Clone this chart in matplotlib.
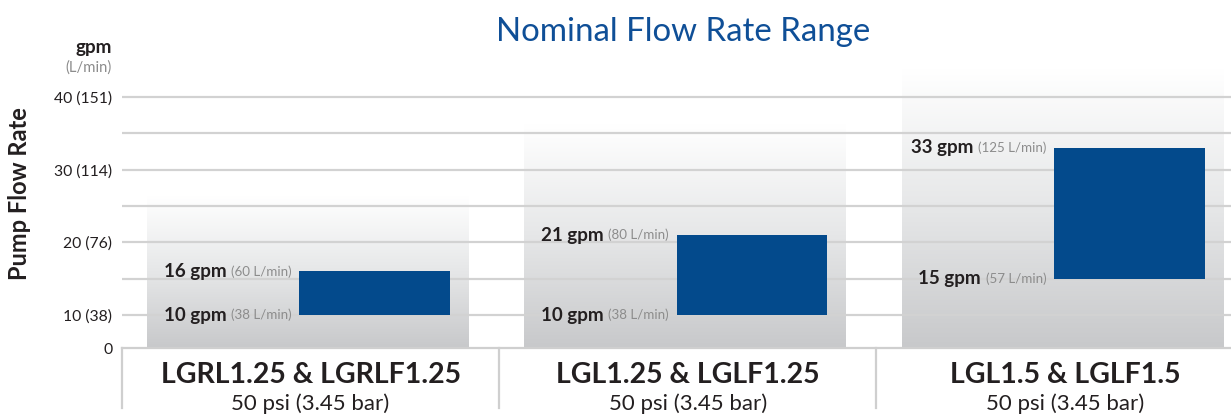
import matplotlib
matplotlib.use("Agg")
import matplotlib.pyplot as plt
import matplotlib.transforms as mtransforms
from matplotlib.colors import LinearSegmentedColormap
import numpy as np

plt.rcParams['font.family'] = ['Lato', 'DejaVu Sans']

# ---- data ----
categories = ["LGRL1.25 & LGRLF1.25", "LGL1.25 & LGLF1.25", "LGL1.5 & LGLF1.5"]
subtitles = ["50 psi (3.45 bar)", "50 psi (3.45 bar)", "50 psi (3.45 bar)"]
low_gpm = [10, 10, 15]
high_gpm = [16, 21, 33]
low_lpm = [38, 38, 57]
high_lpm = [60, 80, 125]
panel_top = [26.3, 36.2, 43.8]
ytick_vals = [5.46, 10, 20, 30, 40]
ytick_labels = ["0", "10 (38)", "20 (76)", "30 (114)", "40 (151)"]
grid_vals = [10, 15, 20, 25, 30, 35, 40]

W, H = 1231, 418
fig = plt.figure(figsize=(W / 100, H / 100), dpi=100)
ax_left, ax_right, ax_bottom, ax_top = 122, 1231, 348, 55
ax = fig.add_axes([ax_left / W, (H - ax_bottom) / H, (ax_right - ax_left) / W, (ax_bottom - ax_top) / H])
ax.set_xlim(-0.5, 2.44)
ax.set_ylim(5.46, 45.78)

bar_color = "#034a8c"
grid_color = "#d2d2d2"
cmap = LinearSegmentedColormap.from_list("panel", ["#c8c9cb", "#e6e7e8", "#ffffff"])

x = np.arange(len(categories))
# gradient panels
grad = np.linspace(0, 1, 256).reshape(-1, 1)
for xi, top in zip(x, panel_top):
    ax.imshow(grad, extent=(xi - 0.433, xi + 0.42, 5.6, top), origin="lower",
              cmap=cmap, aspect="auto", zorder=0.5, interpolation="bicubic")

# gridlines
for g in grid_vals:
    ax.axhline(g, color=grid_color, lw=1.6, zorder=1)

# bars
bars = ax.bar(x + 0.17, np.array(high_gpm) - np.array(low_gpm), bottom=low_gpm,
              width=0.40, color=bar_color, zorder=2)

# value labels
for xi, lo, hi, llo, lhi in zip(x, low_gpm, high_gpm, low_lpm, high_lpm):
    lx = xi - 0.05
    for v, lv in ((lo, llo), (hi, lhi)):
        t = ax.text(lx, v, f"({lv} L/min)", ha="right", va="center",
                    fontsize=9.6, color="#8c8c8c", zorder=3)
        ax.annotate(f"{v} gpm ", xy=(0, 0.5), xycoords=t, ha="right", va="center",
                    fontsize=13.5, fontweight="bold", color="#231f20", zorder=3)

# axes styling
for s in ("top", "right", "left"):
    ax.spines[s].set_visible(False)
ax.spines["bottom"].set_color("#cfcfcf")
ax.spines["bottom"].set_linewidth(1.6)
ax.set_xticks([])
ax.set_yticks(ytick_vals)
ax.set_yticklabels(ytick_labels, fontsize=11.3, color="#231f20")
ax.tick_params(axis="y", length=0, pad=7)

# category separators and labels
trans = mtransforms.blended_transform_factory(ax.transData, ax.transAxes)
for sx in (-0.5, 0.5, 1.5):
    ax.plot([sx, sx], [0, -0.205], transform=trans, color="#cfcfcf", lw=1.6, clip_on=False)
for xi, cat, sub in zip(x, categories, subtitles):
    ax.text(xi, -0.093, cat, transform=trans, ha="center", va="center",
            fontsize=20.5, fontweight="bold", color="#231f20")
    ax.text(xi, -0.19, sub, transform=trans, ha="center", va="center",
            fontsize=16, color="#231f20")

# titles
fig.text(683 / W, 1 - 32 / H, "Nominal Flow Rate Range", ha="center", va="center",
         fontsize=23.8, color="#0f4f97")
fig.text(20 / W, 1 - 194 / H, "Pump Flow Rate", ha="center", va="center", rotation=90,
         fontsize=17, fontweight="bold", color="#231f20")
fig.text(112 / W, 1 - 47 / H, "gpm", ha="right", va="center", fontsize=13.5,
         fontweight="bold", color="#231f20")
fig.text(112 / W, 1 - 68 / H, "(L/min)", ha="right", va="center", fontsize=10.7,
         color="#8c8c8c")

fig.savefig("out.png", dpi=100)
